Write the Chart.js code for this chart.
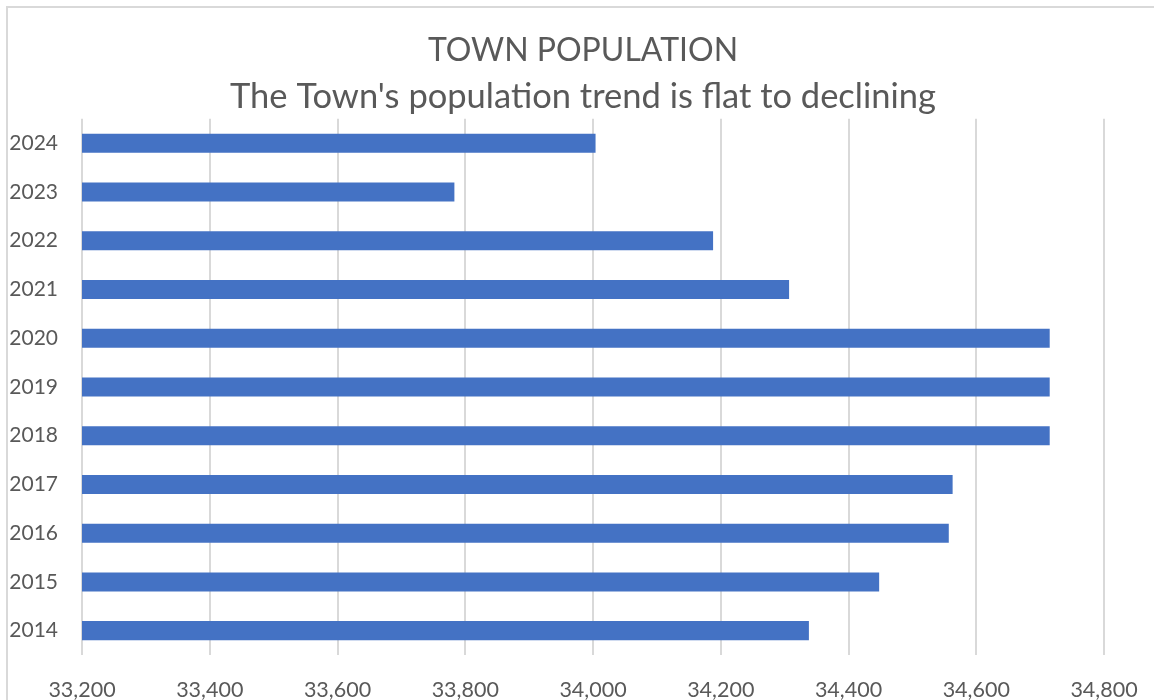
<!DOCTYPE html>
<html>
<head>
<meta charset="utf-8">
<title>Town Population</title>
<script src="https://cdn.jsdelivr.net/npm/chart.js@4/dist/chart.umd.min.js"></script>
<style>
    html, body { margin: 0; padding: 0; overflow: hidden; background: #fff; }
    #frame {
        position: absolute; left: 6px; top: 6px; width: 1200px; height: 760px;
        border-left: 2px solid #d9d9d9; border-top: 2px solid #d9d9d9;
    }
    #popChart { position: absolute; left: 0; top: 0; }
</style>
</head>
<body>
<div id="frame"></div>
<canvas id="popChart" width="1154" height="720"></canvas>
<script>
// values
const years = ['2014', '2015', '2016', '2017', '2018', '2019', '2020', '2021', '2022', '2023', '2024'];
const population = [34338, 34448, 34557, 34563, 34715, 34715, 34715, 34307, 34188, 33783, 34004];
const xMin = 33200;
const xMax = 34800;
const xStep = 200;

const textColor = '#595959';
const fontFamily = 'Lato, "Open Sans", sans-serif';

// the titles are centred on the whole frame, not on the plot, so nudge their boxes
const shiftTitles = {
    id: 'shiftTitles',
    afterLayout(chart) {
        chart.boxes.forEach((b) => {
            if (!b.axis && b.position === 'top') b.left = 62;
        });
    }
};

const ctx = document.getElementById('popChart').getContext('2d');
new Chart(ctx, {
    type: 'bar',
    data: {
        labels: years,
        datasets: [{
            label: 'Population',
            data: population,
            backgroundColor: '#4472c4',
            borderWidth: 0,
            categoryPercentage: 1,
            barPercentage: 0.39
        }]
    },
    options: {
        indexAxis: 'y',
        responsive: false,
        animation: false,
        layout: { padding: { left: 0, right: 50, top: 0, bottom: 0 } },
        plugins: {
            legend: { display: false },
            tooltip: { enabled: false },
            title: {
                display: true,
                text: 'TOWN POPULATION',
                color: textColor,
                font: { family: fontFamily, size: 32, weight: 'normal', lineHeight: 1.2 },
                padding: { top: 31, bottom: 0 }
            },
            subtitle: {
                display: true,
                text: "The Town's population trend is flat to declining",
                color: textColor,
                font: { family: fontFamily, size: 34.5, weight: 'normal', lineHeight: 1.2 },
                padding: { top: 7, bottom: 1 }
            }
        },
        scales: {
            x: {
                min: xMin,
                max: xMax,
                ticks: {
                    stepSize: xStep,
                    color: textColor,
                    font: { family: fontFamily, size: 21.5 },
                    padding: 22,
                    maxRotation: 0,
                    callback: (v) => v.toLocaleString('en-US')
                },
                grid: { color: '#d9d9d9', lineWidth: 2, drawTicks: false },
                border: { display: false },
                afterFit: (s) => {
                    s.height = 65;
                    s.paddingLeft = 0;
                    s.paddingRight = 0;
                }
            },
            y: {
                reverse: true,
                ticks: {
                    color: textColor,
                    font: { family: fontFamily, size: 21 },
                    padding: 24
                },
                grid: { display: false, drawTicks: false },
                border: { display: false },
                afterFit: (s) => { s.width = 82; }
            }
        }
    },
    plugins: [shiftTitles]
});
</script>
</body>
</html>
